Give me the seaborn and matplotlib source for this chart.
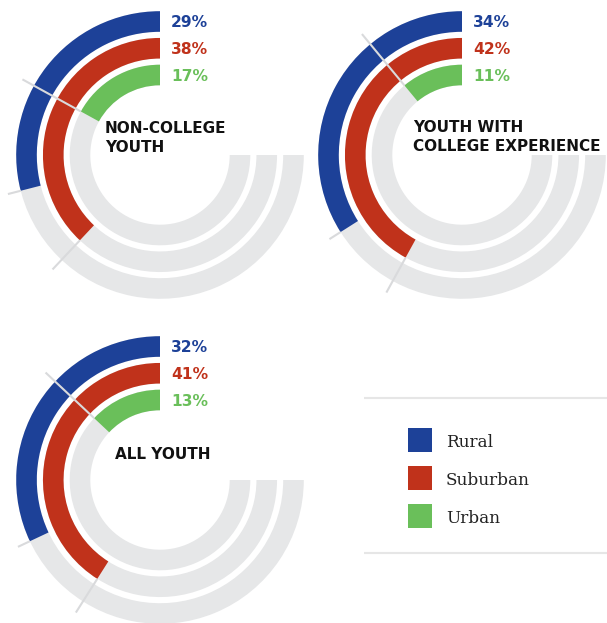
import numpy as np
import pandas as pd
import matplotlib
matplotlib.use("Agg")
import matplotlib.pyplot as plt
from matplotlib.patches import Rectangle
import seaborn as sns

# Share of youth by community type, for each group
groups = ["NON-COLLEGE\nYOUTH", "YOUTH WITH\nCOLLEGE EXPERIENCE", "ALL YOUTH"]
areas = ["Urban", "Suburban", "Rural"]          # inner ring -> outer ring
rural = [29, 34, 32]
suburban = [38, 42, 41]
urban = [17, 11, 13]
legend_order = ["Rural", "Suburban", "Urban"]

palette = {"Rural": "#1d4198", "Suburban": "#c0321b", "Urban": "#6abf5a"}
TRACK = "#e6e7e8"
TICK = "#d9dadc"
TRACK_SPAN = 0.75                               # grey track covers 3/4 of the circle

W, H, DPI = 607, 623, 100
HALF = 160                                      # px from ring centre to axes edge
R0, STEP = 80.0, 26.75                          # px radius of ring 0 and ring spacing
BAR_W = 0.77
TICK_END = (157 - R0) / STEP

sns.set_theme(style="white")
plt.rcParams["font.family"] = ["DejaVu Sans"]

fig = plt.figure(figsize=(W / DPI, H / DPI), dpi=DPI)

centres = [(160, 155), (462, 155), (160, 480)]
title_offsets = [(-55, 33.8), (-49, 35.5), (-45, 33.2)]

for i, (cx, cy) in enumerate(centres):
    ax = fig.add_axes([(cx - HALF) / W, 1 - (cy + HALF) / H, 2 * HALF / W, 2 * HALF / H],
                      projection="polar")
    ax.set_theta_zero_location("N")
    ax.set_theta_direction(1)

    df = pd.DataFrame({"area": areas, "pct": [urban[i], suburban[i], rural[i]]})
    df["angle"] = df["pct"] / 100 * 2 * np.pi
    df["track"] = TRACK_SPAN * 2 * np.pi

    sns.barplot(data=df, x="track", y="area", order=areas, color=TRACK, saturation=1,
                width=BAR_W, errorbar=None, orient="y", linewidth=0, ax=ax)
    sns.barplot(data=df, x="angle", y="area", hue="area", order=areas, hue_order=areas,
                palette=palette, saturation=1, width=BAR_W, errorbar=None, orient="y",
                linewidth=0, legend=False, ax=ax)

    ax.set_xlim(0, 2 * np.pi)
    ax.set_ylim((0 - R0) / STEP, (HALF - R0) / STEP)
    ax.axis("off")

    for k, row in df.iterrows():
        a = row["angle"]
        ax.plot([a, a], [k + BAR_W / 2, TICK_END], color=TICK, lw=1.5,
                solid_capstyle="butt", zorder=5)
        ax.annotate(f"{row['pct']}%", xy=(0, k), xycoords="data",
                    xytext=(11, -5.8), textcoords="offset pixels",
                    ha="left", va="baseline", color=palette[row["area"]],
                    fontsize=11.2, fontweight="bold", annotation_clip=False)

    dx, dy = title_offsets[i]
    ax.annotate(groups[i], xy=(0.5, 0.5), xycoords="axes fraction",
                xytext=(dx, dy), textcoords="offset pixels",
                ha="left", va="top", ma="left", linespacing=1.35,
                color="#111111", fontsize=11.0, fontweight="bold",
                annotation_clip=False)

# Legend panel
lx0, lx1, ly0, ly1 = 364, 607, 390, 560
lax = fig.add_axes([lx0 / W, 1 - ly1 / H, (lx1 - lx0) / W, (ly1 - ly0) / H])
lax.set_xlim(lx0, lx1)
lax.set_ylim(ly1, ly0)
lax.axis("off")
for yy in (398, 553):
    lax.plot([lx0, lx1], [yy, yy], color="#e6e6e6", lw=1.5, solid_capstyle="butt")
for j, name in enumerate(legend_order):
    top = 428 + 38 * j
    lax.add_patch(Rectangle((408, top), 24, 24, facecolor=palette[name], edgecolor="none"))
    lax.text(446, top + 19.3, name, ha="left", va="baseline", color="#222222",
             fontsize=12.2, family=["DejaVu Serif"])

fig.savefig("out.png", dpi=DPI)
